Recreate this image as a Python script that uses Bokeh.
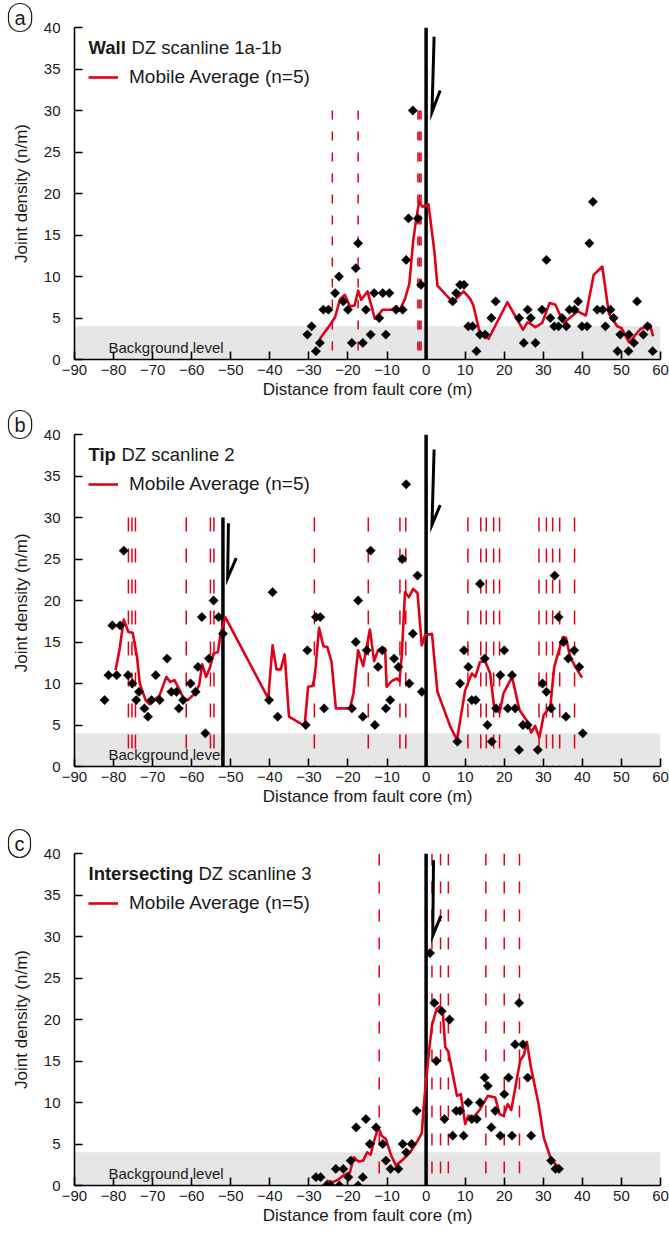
import numpy as np
from bokeh.plotting import figure
from bokeh.layouts import column
from bokeh.models import (Range1d, BoxAnnotation, Label, Legend, LegendItem, FixedTicker,
                          Title)
from bokeh.embed import file_html
from bokeh.resources import INLINE

# ---------------- data ----------------
x_ticks = [-90, -80, -70, -60, -50, -40, -30, -20, -10, 0, 10, 20, 30, 40, 50, 60]
y_ticks = [0, 5, 10, 15, 20, 25, 30, 35, 40]
background_level = 4

# Panel a : Wall DZ scanline 1a-1b
a_pts_x = [-30.4, -29.3, -28.2, -27.2, -26.3, -25.0, -23.3, -22.3, -21.2, -20.0, -19.0, -18.0,
           -17.4, -16.2, -15.4, -14.2, -13.3, -12.0, -11.1, -10.3, -9.4, -7.7, -6.0, -5.1, -4.5,
           -3.4, -2.1, -1.3, 6.8, 7.7, 8.7, 9.7, 10.8, 11.9, 12.9, 13.8, 15.1, 16.7, 17.8, 23.8,
           25.0, 26.0, 26.8, 28.0, 29.7, 30.8, 31.8, 32.8, 33.9, 34.8, 35.9, 36.7, 38.0, 38.9,
           39.9, 41.2, 41.8, 42.7, 43.8, 45.2, 45.9, 47.2, 48.0, 49.0, 49.7, 51.8, 51.9, 53.2,
           54.0, 55.6, 56.7, 58.0]
a_pts_y = [3, 4, 1, 2, 6, 6, 8, 10, 7, 6, 2, 11,
           14, 2, 6, 3, 8, 5, 8, 3, 8, 6, 6, 12, 17,
           30, 17, 9, 7, 8, 9, 9, 4, 4, 1, 3, 3, 5, 7, 5,
           2, 6, 5, 2, 6, 12, 5, 4, 4, 5, 4, 6, 6, 7,
           4, 4, 14, 19, 6, 6, 4, 6, 5, 1, 3, 1, 3, 2,
           7, 3, 4, 1]
a_ma_x = [-27.2, -25.0, -23.3, -22.0, -20.8, -19.5, -18.3, -17.4, -16.6, -15.0, -13.1, -11.1,
          -8.8, -7.5, -6.8, -5.4, -4.3, -3.3, -2.6, -1.8, -0.9, 0.6, 2.1, 2.9, 6.8, 9.6, 11.3,
          12.1, 13.7, 16.0, 20.8, 24.8, 26.0, 28.0, 29.7, 31.6, 33.1, 35.2, 38.8, 40.9, 42.9,
          45.1, 46.8, 47.6, 48.9, 50.0, 51.9, 52.6, 54.9, 56.3, 57.3, 58.1]
a_ma_y = [2.5, 3.9, 5.1, 7.3, 7.8, 6.4, 6.5, 8.3, 7.2, 8.2, 4.9, 6.0,
          6.0, 6.4, 5.9, 7.3, 9.1, 14.3, 16.7, 19.0, 18.4, 18.7, 13.1, 8.9, 6.9, 8.2, 7.3,
          6.5, 3.3, 2.5, 6.9, 3.6, 4.5, 3.9, 4.4, 6.8, 6.6, 4.4, 5.8, 5.3, 10.2,
          11.2, 5.5, 5.0, 4.0, 3.8, 2.1, 2.4, 3.7, 3.9, 4.2, 2.8]
a_dash_x = [-24.0, -17.4, -2.1, -1.7, -1.3]
a_dash_top = 30
a_faults_x = [0]
a_faults_top = [40]

# Panel b : Tip DZ scanline 2
b_pts_x = [-82.3, -81.3, -80.3, -79.2, -78.3, -77.4, -76.3, -75.2, -74.2, -73.5, -72.1, -71.2,
           -70.3, -69.2, -68.2, -66.3, -65.2, -63.9, -63.3, -62.2, -60.3, -59.0, -58.4, -57.4,
           -56.5, -55.6, -54.4, -53.1, -52.0, -40.2, -39.3, -38.0, -30.8, -30.4, -28.2, -27.1,
           -26.1, -19.0, -18.0, -17.4, -16.2, -15.2, -14.2, -13.1, -12.3, -11.2, -10.3, -9.2,
           -8.2, -7.1, -6.1, -5.1, -4.3, -3.4, -2.2, -1.1, 8.0, 8.7, 9.7, 10.8, 11.7, 12.7,
           13.8, 15.0, 15.7, 16.8, 17.9, 19.0, 20.0, 20.9, 22.0, 22.8, 23.8, 24.8, 26.0, 28.6,
           29.8, 30.8, 32.0, 32.9, 33.9, 35.2, 35.8, 36.4, 37.9, 39.2, 40.1]
b_pts_y = [8, 11, 17, 11, 17, 26, 11, 10, 8, 9, 7, 6,
           8, 11, 8, 13, 9, 9, 7, 8, 10, 9, 12, 18,
           4, 13, 20, 18, 16, 8, 21, 6, 5, 14, 18, 18,
           7, 7, 15, 20, 6, 14, 26, 5, 12, 14, 7, 8,
           13, 12, 25, 34, 10, 16, 23, 9, 3, 10, 14, 12, 8, 8,
           22, 13, 5, 3, 7, 11, 14, 7, 11, 7, 2, 5, 5, 2,
           10, 9, 7, 23, 18, 15, 6, 13, 14, 12, 4]
b_ma_x = [-79.5, -78.5, -77.4, -76.2, -75.1, -74.0, -73.3, -71.8, -70.8, -68.2, -66.5, -65.5,
          -64.4, -63.1, -62.1, -61.0, -59.2, -58.1, -57.3, -56.3, -55.4, -54.4, -53.3, -52.6,
          -51.4, -40.4, -39.3, -38.3, -37.2, -36.2, -35.1, -31.1, -30.2, -29.1, -28.5, -27.4,
          -26.3, -25.3, -24.2, -23.1, -19.5, -18.6, -17.4, -16.1, -14.4, -13.3, -12.3, -11.4,
          -10.5, -10.1, -8.8, -7.5, -6.8, -6.2, -5.4, -4.4, -3.3, -2.2, -1.1, -0.3, 1.5, 2.9,
          6.2, 7.9, 10.0, 11.7, 12.6, 13.8, 15.1, 16.4, 17.4, 18.8, 19.8, 22.0, 23.9, 25.8,
          26.9, 27.9, 29.0, 30.1, 31.8, 32.8, 33.9, 35.0, 35.8, 36.9, 38.2, 39.9]
b_ma_y = [11.6, 14.0, 17.7, 16.2, 16.1, 13.2, 10.0, 8.0, 7.5, 8.6, 10.8, 10.2,
          10.4, 9.2, 8.2, 8.0, 8.8, 9.8, 12.3, 10.8, 11.8, 13.6, 13.8, 16.0,
          18.0, 8.2, 14.6, 11.7, 11.7, 13.5, 6.0, 4.9, 9.6, 9.7, 10.8, 16.7,
          14.5, 14.4, 12.6, 7.0, 7.0, 8.8, 14.0, 12.1, 16.5, 12.7, 14.0, 14.3,
          14.2, 9.6, 10.3, 10.6, 10.3, 13.6, 21.0, 20.4, 21.4, 20.9, 14.6, 15.8, 16.0, 9.0,
          4.8, 3.2, 9.2, 11.2, 10.8, 12.6, 12.7, 11.2, 7.2, 6.5, 8.8, 10.8, 6.8, 5.5,
          4.1, 4.9, 3.5, 6.2, 7.2, 12.0, 13.8, 15.6, 15.5, 13.2, 12.0, 10.7]
b_dash_x = [-76.2, -75.3, -74.4, -61.4, -55.2, -54.3, -28.6, -14.8, -6.7, -5.2, 10.7, 14.0,
            15.4, 17.3, 18.8, 28.9, 30.8, 32.4, 34.2, 38.0]
b_dash_top = 30
b_faults_x = [0, -52]
b_faults_top = [40, 30]

# Panel c : Intersecting DZ scanline 3
c_pts_x = [-28.2, -27.0, -25.5, -24.4, -23.1, -22.2, -21.2, -19.9, -19.3, -17.9, -17.4, -16.2,
           -15.4, -14.4, -12.8, -11.1, -10.3, -9.1, -7.1, -6.0, -5.1, -3.7, -2.4, 1.0, 2.1,
           2.6, 4.0, 4.7, 6.0, 6.8, 7.7, 8.7, 9.6, 10.8, 11.7, 13.0, 13.8, 15.0, 15.8, 16.7,
           17.7, 19.0, 20.0, 21.1, 22.0, 22.8, 23.8, 24.8, 26.0, 26.9, 32.0, 33.1, 34.0]
c_pts_y = [1, 1, 0, 0, 2, 0, 2, 1, 3, 7, 0, 1,
           8, 5, 7, 5, 3, 2, 2, 5, 4, 5, 9, 28, 22,
           15, 21, 8, 20, 6, 9, 9, 6, 10, 8, 8, 10, 13, 12, 7,
           9, 6, 11, 13, 6, 17, 22, 17, 13, 6, 3, 2, 2]
c_ma_x = [-25.5, -23.9, -22.5, -21.2, -19.5, -18.5, -17.4, -16.1, -15.1, -14.2, -13.3, -12.2,
          -11.4, -10.3, -9.1, -7.7, -6.0, -4.1, -2.4, -1.1, -0.5, 0.6, 1.5, 2.7, 3.6, 4.3,
          4.9, 5.7, 7.9, 8.9, 10.0, 10.8, 12.1, 13.7, 15.8, 17.7, 18.8, 19.8, 20.9, 21.8,
          24.1, 25.0, 25.8, 26.8, 28.8, 30.1, 32.0, 33.5, 34.2]
c_ma_y = [0.6, 0.4, 0.7, 1.2, 1.6, 3.4, 2.9, 3.0, 4.0, 3.7, 5.4, 7.0,
          6.0, 5.6, 3.8, 2.4, 3.1, 4.0, 5.2, 6.3, 10.2, 15.5, 19.3, 21.3, 21.6, 20.7,
          16.7, 16.1, 10.8, 11.0, 7.4, 8.4, 8.2, 9.1, 10.8, 10.6, 8.6, 8.4, 9.8, 9.1,
          15.1, 15.7, 17.3, 14.3, 9.8, 5.8, 3.1, 2.4, 2.3]
c_dash_x = [-12.0, 1.5, 3.7, 5.7, 15.3, 20.0, 23.9]
c_dash_top = 40
c_faults_x = [0]
c_faults_top = [40]

# half-arrows showing the sense of fault movement (annotation strokes)
a_arrows_xs = [[2.05, 1.5, 3.6]]
a_arrows_ys = [[38.9, 29.8, 32.4]]
b_arrows_xs = [[2.05, 1.5, 3.6], [-50.6, -50.8, -48.6]]
b_arrows_ys = [[38.2, 29.1, 31.5], [29.3, 22.7, 25.1]]
c_arrows_xs = [[1.9, 1.7, 3.8]]
c_arrows_ys = [[39.2, 30.1, 32.5]]

RED = "#e2001a"
INK = "#1a1a1a"
FONT = "Liberation Sans"
FRAME_W = 586
FRAME_H = 332
TOP = 27


def panel(letter, bold, rest, rest_dx, px, py, mx, my, dx, dtop, dpat, fx, ftop, axs, ays,
          bottom, ylabel):
    p = figure(frame_width=FRAME_W, frame_height=FRAME_H,
               x_range=Range1d(-90, 60), y_range=Range1d(0, 40),
               output_backend="svg", toolbar_location=None,
               min_border_left=74, min_border_right=9, min_border_top=TOP,
               min_border_bottom=bottom)
    p.grid.visible = False
    p.outline_line_color = None

    for ax in (p.xaxis[0], p.yaxis[0]):
        ax.axis_line_color = "black"
        ax.axis_line_width = 1.6
        ax.major_tick_line_color = "black"
        ax.major_tick_line_width = 1.6
        ax.major_tick_in = 8
        ax.major_tick_out = 0
        ax.minor_tick_line_color = None
        ax.major_label_text_font = FONT
        ax.major_label_text_font_size = "15px"
        ax.major_label_text_color = INK
        ax.axis_label_text_font = FONT
        ax.axis_label_text_font_size = "17px"
        ax.axis_label_text_font_style = "normal"
        ax.axis_label_text_color = INK
    p.xaxis[0].ticker = FixedTicker(ticks=x_ticks)
    p.yaxis[0].ticker = FixedTicker(ticks=y_ticks)
    p.xaxis[0].major_label_standoff = 5
    p.xaxis[0].axis_label_standoff = 2
    p.yaxis[0].major_label_standoff = 14
    p.yaxis[0].axis_label_standoff = 10
    p.xaxis[0].axis_label = "Distance from fault core (m)"
    p.yaxis[0].axis_label = ylabel

    # circled panel letter, drawn as a title so that it can sit left of the frame
    p.add_layout(Title(text=letter, align="left", offset=-66, standoff=-8,
                       text_font=FONT, text_font_size="20px", text_font_style="normal",
                       text_color=INK, border_line_color=INK, border_line_width=1.2,
                       padding=(6, 3), border_radius=12), "above")

    p.add_layout(BoxAnnotation(bottom=0, top=background_level, fill_color="#e6e6e6",
                               fill_alpha=1.0, line_color=None, level="underlay"))
    p.add_layout(Label(x=-81.3, y=1.5, text="Background level", text_font=FONT,
                       text_font_size="15px", text_color=INK,
                       text_baseline="alphabetic", level="underlay"))

    p.segment(x0=dx, y0=[dtop] * len(dx), x1=dx, y1=[0] * len(dx),
              line_color=RED, line_width=1.5, line_dash=dpat)
    p.segment(x0=fx, y0=ftop, x1=fx, y1=[0] * len(fx), line_color="black", line_width=3.5)
    p.multi_line(xs=axs, ys=ays, line_color="black", line_width=3, line_join="miter")

    r_ma = p.line(mx, my, line_color=RED, line_width=2.6, line_join="round")
    p.scatter(px, py, marker="square", angle=np.pi / 4, size=6.6,
              fill_color="black", line_color="black", line_width=0.5)

    legend = Legend(items=[LegendItem(label="Mobile Average (n=5)", renderers=[r_ma])],
                    location=(14, 271), label_text_font=FONT, label_text_font_size="19px",
                    label_text_color=INK, glyph_width=30, glyph_height=20,
                    label_standoff=11, padding=0, margin=0, border_line_alpha=0,
                    background_fill_alpha=0)
    p.add_layout(legend)

    p.add_layout(Label(x=14, y=FRAME_H - 20, x_units="screen", y_units="screen", text=bold,
                       text_font=FONT, text_font_style="bold", text_font_size="18.5px",
                       text_color=INK, text_baseline="alphabetic"))
    p.add_layout(Label(x=14 + rest_dx, y=FRAME_H - 20, x_units="screen", y_units="screen",
                       text=rest, text_font=FONT, text_font_size="18.5px",
                       text_color=INK, text_baseline="alphabetic"))
    return p


pa = panel("a", "Wall", "DZ scanline 1a-1b", 43, a_pts_x, a_pts_y, a_ma_x, a_ma_y,
           a_dash_x, a_dash_top, "9 12", a_faults_x, a_faults_top, a_arrows_xs, a_arrows_ys,
           48, "Joint density (n/m)")
pb = panel("b", "Tip", "DZ scanline 2", 33, b_pts_x, b_pts_y, b_ma_x, b_ma_y,
           b_dash_x, b_dash_top, "14 17", b_faults_x, b_faults_top, b_arrows_xs, b_arrows_ys,
           60, "Joint density  (n/m)")
pc = panel("c", "Intersecting", "DZ scanline 3", 110, c_pts_x, c_pts_y, c_ma_x, c_ma_y,
           c_dash_x, c_dash_top, "12 16", c_faults_x, c_faults_top, c_arrows_xs, c_arrows_ys,
           50, "Joint density (n/m)")

layout = column(pa, pb, pc, spacing=0)
open("out.html", "w").write(file_html(layout, INLINE))
